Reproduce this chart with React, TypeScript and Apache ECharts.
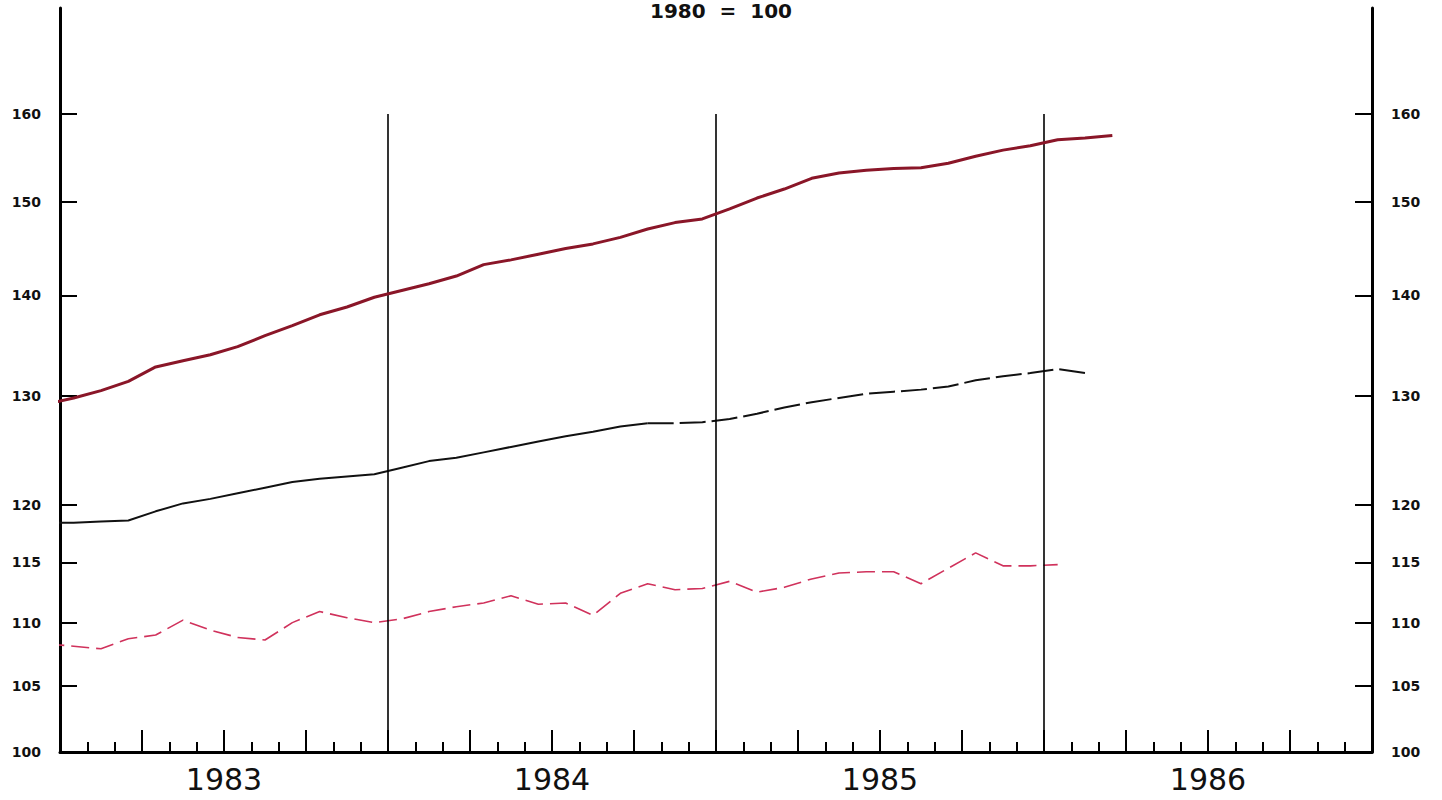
import React, { useEffect, useRef } from "react";
import * as echarts from "echarts";

// Months from Dec 1982 to Mar 1986 (index 1980 = 100)
const months = [
  "1982-12",
  "1983-01", "1983-02", "1983-03", "1983-04", "1983-05", "1983-06", "1983-07", "1983-08", "1983-09", "1983-10", "1983-11", "1983-12",
  "1984-01", "1984-02", "1984-03", "1984-04", "1984-05", "1984-06", "1984-07", "1984-08", "1984-09", "1984-10", "1984-11", "1984-12",
  "1985-01", "1985-02", "1985-03", "1985-04", "1985-05", "1985-06", "1985-07", "1985-08", "1985-09", "1985-10", "1985-11", "1985-12",
  "1986-01", "1986-02", "1986-03",
];

const redSeries = [
  129.2,
  129.8, 130.5, 131.4, 132.8, 133.4, 134.0, 134.8, 135.9, 136.9, 138.0, 138.8, 139.8,
  140.5, 141.2, 142.0, 143.2, 143.7, 144.3, 144.9, 145.4, 146.1, 147.0, 147.7, 148.1,
  149.2, 150.4, 151.4, 152.6, 153.2, 153.5, 153.7, 153.8, 154.3, 155.1, 155.8, 156.3,
  157.0, 157.2, 157.5,
];

const blackSeries = [
  118.4,
  118.4, 118.5, 118.6, 119.4, 120.1, 120.5, 121.0, 121.5, 122.0, 122.3, 122.5, 122.7,
  123.3, 123.9, 124.2, 124.7, 125.2, 125.7, 126.2, 126.6, 127.1, 127.4, 127.4, 127.5,
  127.8, 128.3, 128.9, 129.4, 129.8, 130.2, 130.4, 130.6, 130.9, 131.5, 131.9, 132.2,
  132.6, 132.2, null,
];

const pinkSeries = [
  108.3,
  108.1, 107.9, 108.7, 109.0, 110.2, 109.4, 108.8, 108.6, 110.0, 110.9, 110.4, 110.0,
  110.3, 110.9, 111.3, 111.6, 112.2, 111.5, 111.6, 110.6, 112.4, 113.2, 112.7, 112.8,
  113.4, 112.5, 112.9, 113.6, 114.1, 114.2, 114.2, 113.2, 114.5, 115.8, 114.7, 114.7,
  114.8, null, null,
];

const yTicks = [100, 105, 110, 115, 120, 130, 140, 150, 160];
const years = [1983, 1984, 1985, 1986];
const yearBoundaries = ["1984-01", "1985-01", "1986-01"];
const BLACK_SOLID_UNTIL = "1984-10";

const START_YEAR = 1983;
const Y_MIN = 100;
const Y_MAX = 173;

function monthIndex(s: string): number {
  const [y, m] = s.split("-").map(Number);
  return (y - START_YEAR) * 12 + (m - 1);
}
// plotted at mid-month
function monthPos(s: string): number {
  return monthIndex(s) + 0.5;
}

function pairs(vals: (number | null)[], from = 0, to = vals.length - 1) {
  const out: [number, number][] = [];
  for (let i = from; i <= to; i++) {
    const v = vals[i];
    if (v != null) out.push([monthPos(months[i]), v]);
  }
  return out;
}

export default function App() {
  const ref = useRef<HTMLDivElement>(null);

  useEffect(() => {
    if (!ref.current) return;
    const chart = echarts.init(ref.current, null, { renderer: "svg" });
    const splitIdx = months.indexOf(BLACK_SOLID_UNTIL);
    const yLabelStyle = {
      fontFamily: "DejaVu Sans",
      fontWeight: "bold" as const,
      fontSize: 14,
      color: "#111",
    };
    const yAxisCommon = {
      type: "log" as const,
      logBase: 10,
      min: Y_MIN,
      max: Y_MAX,
      axisLine: { show: true, lineStyle: { color: "#000", width: 3 } },
      axisTick: {
        show: true,
        inside: true,
        length: 17,
        lineStyle: { color: "#000", width: 2 },
        customValues: yTicks,
      },
      axisLabel: {
        ...yLabelStyle,
        margin: 19,
        customValues: yTicks,
        formatter: (v: number) => String(Math.round(v)),
      },
      splitLine: { show: false },
      minorTick: { show: false },
    };

    chart.setOption({
      animation: false,
      backgroundColor: "#ffffff",
      grid: { left: 60, right: 70, top: 8, bottom: 48, containLabel: false },
      graphic: [
        {
          type: "text",
          left: "center",
          top: 1,
          style: {
            text: "1980  =  100",
            fontFamily: "DejaVu Sans",
            fontWeight: "bold",
            fontSize: 20,
            fill: "#111",
          },
        },
      ],
      xAxis: {
        type: "value",
        min: 0,
        max: years.length * 12,
        interval: 3,
        axisLine: { show: true, onZero: false, lineStyle: { color: "#000", width: 3 } },
        axisTick: { show: true, inside: true, length: 22, lineStyle: { color: "#000", width: 2 } },
        minorTick: { show: true, splitNumber: 3, length: 10, lineStyle: { color: "#000", width: 2 } },
        splitLine: { show: false },
        axisLabel: {
          margin: 12,
          fontFamily: "DejaVu Sans",
          fontSize: 30,
          color: "#111",
          showMinLabel: true,
          showMaxLabel: true,
          formatter: (v: number) => {
            const r = ((v - 6) % 12 + 12) % 12;
            return r === 0 ? String(START_YEAR + Math.floor(v / 12)) : "";
          },
        },
      },
      yAxis: [
        { ...yAxisCommon, position: "left" },
        { ...yAxisCommon, position: "right" },
      ],
      series: [
        {
          type: "line",
          name: "red",
          data: pairs(redSeries),
          symbol: "none",
          clip: true,
          lineStyle: { color: "#8a1628", width: 3 },
          z: 5,
          markLine: {
            silent: true,
            symbol: "none",
            label: { show: false },
            lineStyle: { color: "#000", width: 1.6, type: "solid" },
            data: yearBoundaries.map((b) => [
              { coord: [monthIndex(b), 100] },
              { coord: [monthIndex(b), 160] },
            ]),
          },
        },
        {
          type: "line",
          name: "black solid",
          data: pairs(blackSeries, 0, splitIdx),
          symbol: "none",
          clip: true,
          lineStyle: { color: "#111", width: 2 },
          z: 4,
        },
        {
          type: "line",
          name: "black dashed",
          data: pairs(blackSeries, splitIdx),
          symbol: "none",
          clip: true,
          lineStyle: { color: "#111", width: 2, type: [26, 6] },
          z: 4,
        },
        {
          type: "line",
          name: "pink",
          data: pairs(pinkSeries),
          symbol: "none",
          clip: true,
          lineStyle: { color: "#d0325c", width: 1.6, type: [18, 7] },
          z: 3,
        },
      ],
    });

    return () => chart.dispose();
  }, []);

  return (
    <div
      ref={ref}
      style={{ position: "fixed", left: 0, top: 0, width: 1442, height: 800 }}
    />
  );
}
